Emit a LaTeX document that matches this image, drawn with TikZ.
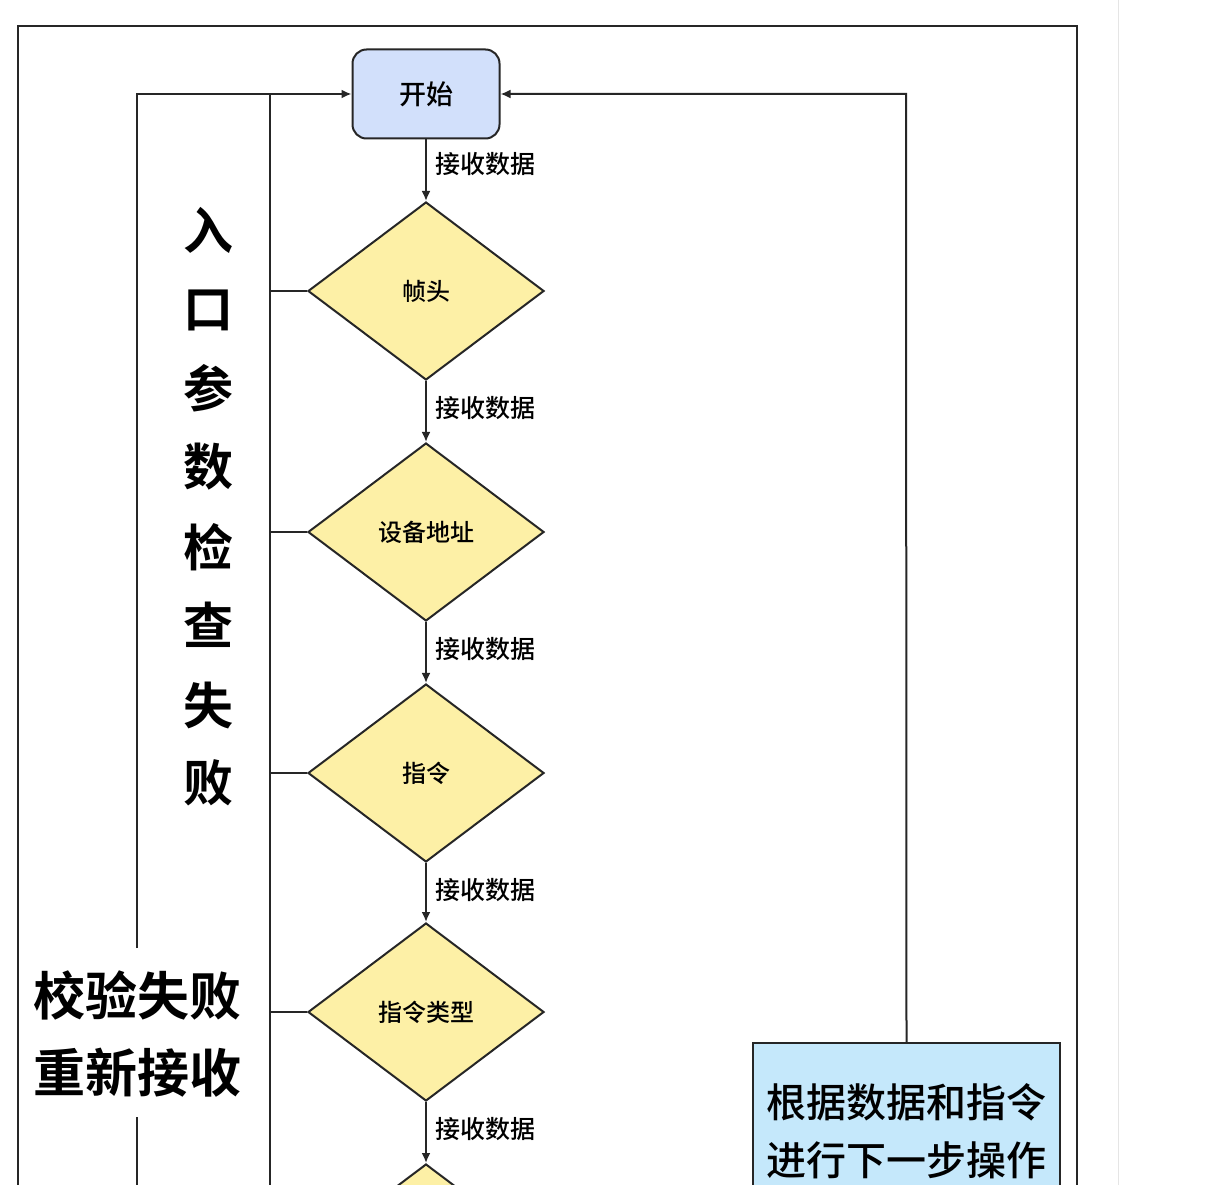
\documentclass[tikz,border=0pt]{standalone}
\usepackage{fontspec}
\newfontfamily\cjk{Noto Sans CJK SC}[BoldFont={* Bold}]
\newfontfamily\cjkm{Noto Sans CJK SC}[UprightFont={* Medium}]
\usetikzlibrary{shapes.geometric,arrows.meta}
\definecolor{startfill}{HTML}{D2E0FB}
\definecolor{dfill}{HTML}{FDF0A6}
\definecolor{bfill}{HTML}{C5E8FB}
\begin{document}
\begin{tikzpicture}[x=1pt,y=-1pt,
  line/.style={draw=black!85,line width=2pt},
  arr/.style={line,-{Latex[length=10pt,width=9pt]}},
  dia/.style={diamond,draw=black!85,line width=2pt,fill=dfill,minimum width=236pt,minimum height=178pt,inner sep=0pt,aspect=1.33,font=\cjkm\fontsize{24}{24}\selectfont},
  lab/.style={font=\cjkm\fontsize{25}{25}\selectfont,anchor=west,xshift=5pt},
  big/.style={font=\cjk\bfseries\fontsize{50}{50}\selectfont}]
\useasboundingbox (0,0) rectangle (1226,1185);
\clip (0,0) rectangle (1226,1185);
\fill[white] (0,0) rectangle (1226,1185);
\draw[black!10,line width=1pt] (1118,0) -- (1118,1185);
\draw[line] (18,1200) -- (18,26) -- (1077,26) -- (1077,1200);
\node[draw=black!85,line width=2pt,fill=startfill,rounded corners=14pt,minimum width=147pt,minimum height=89pt,font=\cjkm\fontsize{27}{27}\selectfont] (s) at (426,94) {开始};
\node[dia] (d1) at (426,291) {帧头};
\node[dia] (d2) at (426,532) {设备地址};
\node[dia] (d3) at (426,773) {指令};
\node[dia] (d4) at (426,1012) {指令类型};
\node[dia] (d5) at (426,1253) {};
\draw[arr] (s) -- node[lab,pos=0.4]{接收数据} (d1);
\draw[arr] (d1) -- node[lab,pos=0.45]{接收数据} (d2);
\draw[arr] (d2) -- node[lab,pos=0.45]{接收数据} (d3);
\draw[arr] (d3) -- node[lab,pos=0.45]{接收数据} (d4);
\draw[arr] (d4) -- node[lab,pos=0.45]{接收数据} (d5);
\coordinate (t) at (270,94);
\coordinate (b) at (270,1200);
\draw[line] (b) -- (t);
\draw[arr] (t) -- (s.west);
\foreach \d in {d1,d2,d3,d4} \draw[line] (\d.west) -- (\d.west -| t);
\coordinate (o1) at (137,948);
\coordinate (o2) at (137,1117);
\coordinate (o3) at (137,1200);
\draw[line] (o1) -- (137,94) -- (t);
\draw[line] (o2) -- (o3);
\foreach \c/\y in {入/230,口/310,参/388,数/467,检/547,查/625,失/705,败/783}
  \node[big] at (208,\y) {\c};
\node[font=\cjk\bfseries\fontsize{52}{52}\selectfont] (f1) at (137,995) {校验失败};
\node[font=\cjk\bfseries\fontsize{52}{52}\selectfont] (f2) at (137,1073) {重新接收};
\node[draw=black!85,line width=2pt,fill=bfill,minimum width=307pt,minimum height=200pt,anchor=north west] (r) at (752,1042) {};
\node[font=\cjkm\fontsize{40}{40}\selectfont] at (906,1102) {根据数据和指令};
\node[font=\cjkm\fontsize{40}{40}\selectfont] at (906,1160) {进行下一步操作};
\draw[arr] (r.north) -- (906,94) -- (s.east);
\end{tikzpicture}
\end{document}
